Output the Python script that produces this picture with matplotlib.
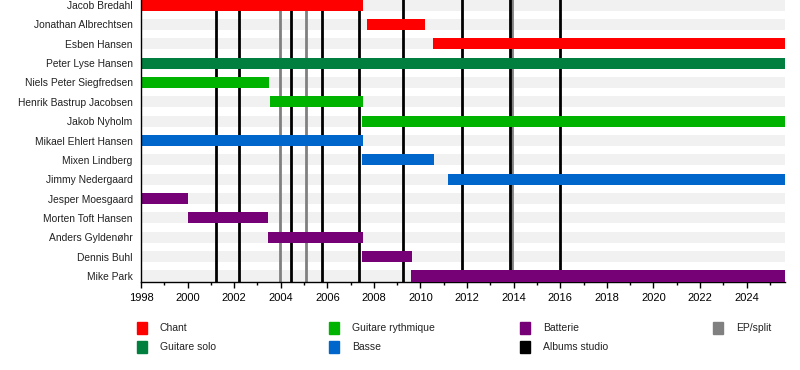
import matplotlib
matplotlib.use("Agg")
import matplotlib.pyplot as plt
from matplotlib.patches import Rectangle

plt.rcParams['font.family'] = ['Liberation Sans', 'DejaVu Sans']

members = ["Jacob Bredahl", "Jonathan Albrechtsen", "Esben Hansen", "Peter Lyse Hansen",
           "Niels Peter Siegfredsen", "Henrik Bastrup Jacobsen", "Jakob Nyholm",
           "Mikael Ehlert Hansen", "Mixen Lindberg", "Jimmy Nedergaard",
           "Jesper Moesgaard", "Morten Toft Hansen", "Anders Gyldenøhr",
           "Dennis Buhl", "Mike Park"]
starts = [1998.0, 2007.7, 2010.55, 1998.0, 1998.0, 2003.55, 2007.5, 1998.0, 2007.5,
          2011.2, 1998.0, 2000.0, 2003.45, 2007.5, 2009.6]
END = 2025.65
ends = [2007.55, 2010.2, END, END, 2003.5, 2007.55, END, 2007.55, 2010.6,
        END, 2000.0, 2003.45, 2007.55, 2009.65, END]
roles = ["Chant", "Chant", "Chant", "Guitare solo", "Guitare rythmique", "Guitare rythmique",
         "Guitare rythmique", "Basse", "Basse", "Basse", "Batterie", "Batterie",
         "Batterie", "Batterie", "Batterie"]

role_names = ["Chant", "Guitare solo", "Guitare rythmique", "Basse", "Batterie"]
role_colors = ["#ff0000", "#007f3f", "#00b300", "#0066cc", "#760076"]

albums = [2001.23, 2002.22, 2004.42, 2005.75, 2007.36, 2009.26, 2011.79, 2013.85, 2015.97]
eps = [2003.95, 2005.09, 2013.93]

color_of = dict(zip(role_names, role_colors))

fig = plt.figure(figsize=(8, 3.7), dpi=100)
ax = fig.add_axes([141/800, (370-282)/370, (785-141)/800, 282/370])

H = 0.57
n = len(members)
for i in range(n):
    ax.barh(i, END - 1998.0, left=1998.0, height=H, color="#f1f1f1", zorder=1)
for i, (s, e, r) in enumerate(zip(starts, ends, roles)):
    ax.barh(i, e - s, left=s, height=H, color=color_of[r], zorder=3)

for x in eps:
    ax.axvline(x, color="#808080", lw=2, zorder=2)
for x in albums:
    ax.axvline(x, color="black", lw=2, zorder=2)

ax.set_xlim(1998, END)
ax.set_ylim(14.31, -0.26)
ax.set_yticks(range(n))
ax.set_yticklabels(members, fontsize=7.4, color="#222222")
ax.tick_params(axis='y', length=0, pad=6)
ax.set_xticks(range(1998, 2025, 2))
ax.set_xticks(range(1998, 2026), minor=True)
ax.tick_params(axis='x', which='major', length=4, width=1, labelsize=8, pad=4)
ax.tick_params(axis='x', which='minor', length=2, width=1)
for sp in ["top", "right"]:
    ax.spines[sp].set_visible(False)
ax.spines["left"].set_linewidth(1)
ax.spines["bottom"].set_linewidth(1)
ax.spines["left"].set_zorder(4)

legend_items = [("Chant", "#ff0000"), ("Guitare solo", "#007f3f"),
                ("Guitare rythmique", "#00b300"), ("Basse", "#0066cc"),
                ("Batterie", "#760076"), ("Albums studio", "#000000"),
                ("EP/split", "#808080")]
col_x = [137, 329, 520, 713]
row_y = [328, 347]
positions = [(0, 0), (0, 1), (1, 0), (1, 1), (2, 0), (2, 1), (3, 0)]
for (label, col), (c, r) in zip(legend_items, positions):
    x0 = col_x[c]
    y0 = row_y[r]
    fig.patches.append(Rectangle((x0/800, 1 - (y0 + 6)/370), 10/800, 12/370,
                                 transform=fig.transFigure, color=col))
    fig.text((x0 + 23)/800, 1 - y0/370, label, fontsize=7.5, va="center", ha="left",
             color="#222222")

fig.savefig("out.png", dpi=100)
